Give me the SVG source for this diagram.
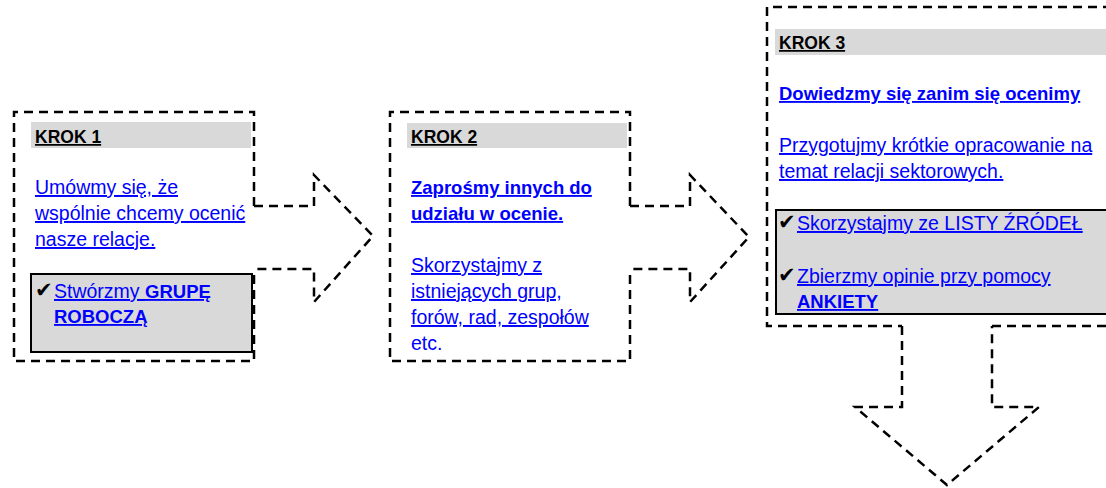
<svg xmlns="http://www.w3.org/2000/svg" width="1106" height="488" viewBox="0 0 1106 488">
<style>
.dash{fill:none;stroke:#000;stroke-width:2.5;stroke-dasharray:9 6}
.hdr{fill:#d9d9d9}
.gbox{fill:#d9d9d9;stroke:#000;stroke-width:2}
text{font-family:"Liberation Sans",Arial,sans-serif;font-size:19.5px}
.k{font-weight:bold;fill:#000;text-decoration:underline;font-size:17.5px}
.l{fill:#0000ff;text-decoration:underline}
.p{fill:#0000ff}
.b{font-weight:bold;font-size:18.5px}
.ck{font-family:"DejaVu Sans",sans-serif;font-size:21px;fill:#000}
</style>
<rect width="1106" height="488" fill="#fff"/>
<g id="step1">
<path class="dash" d="M254,206 V112 H14 V361 H254 V269"/>
<rect class="hdr" x="31" y="122" width="220" height="26"/>
<text class="k" x="35" y="143">KROK 1</text>
<text class="l" x="35" y="194">Umówmy się, że</text>
<text class="l" x="35" y="220">wspólnie chcemy ocenić</text>
<text class="l" x="35" y="246">nasze relacje.</text>
<rect class="gbox" x="31" y="274" width="221" height="78"/>
<text class="ck" x="35" y="297">✔</text>
<text class="l" x="54" y="298">Stwórzmy <tspan class="b">GRUPĘ</tspan></text>
<text class="l b" x="54" y="323">ROBOCZĄ</text>
</g>
<g id="step2">
<path class="dash" d="M630,206 V112 H390 V361 H630 V269"/>
<rect class="hdr" x="407" y="123" width="220" height="25"/>
<text class="k" x="411" y="143">KROK 2</text>
<text class="l b" x="411" y="194">Zaprośmy innych do</text>
<text class="l b" x="411" y="220">udziału w ocenie.</text>
<text class="l" x="411" y="272">Skorzystajmy z</text>
<text class="l" x="411" y="298">istniejących grup,</text>
<text class="l" x="411" y="324">forów, rad, zespołów</text>
<text class="p" x="411" y="350">etc.</text>
</g>
<g id="step3">
<path class="dash" d="M1112,7 H767 V326 H902 M992,326 H1112"/>
<rect class="hdr" x="775" y="29" width="340" height="26"/>
<text class="k" x="779" y="49">KROK 3</text>
<text class="l b" x="779" y="100">Dowiedzmy się zanim się ocenimy</text>
<text class="l" x="779" y="152">Przygotujmy krótkie opracowanie na</text>
<text class="l" x="779" y="178">temat relacji sektorowych.</text>
<rect class="gbox" x="776" y="210" width="340" height="104"/>
<text class="ck" x="778" y="229">✔</text>
<text class="l" x="797" y="230">Skorzystajmy ze LISTY ŹRÓDEŁ</text>
<text class="ck" x="778" y="282">✔</text>
<text class="l" x="797" y="283">Zbierzmy opinie przy pomocy</text>
<text class="l b" x="797" y="308">ANKIETY</text>
</g>
<g id="connectors">
<path class="dash" d="M254,206 H314 V175 L373,236 L314,302 V269 H254"/>
<path class="dash" d="M630,206 H690 V175 L749,237 L690,302 V269 H630"/>
<path class="dash" d="M902,326 V407 H855 L947,485 L1039,407 H992 V326"/>
</g>
</svg>
